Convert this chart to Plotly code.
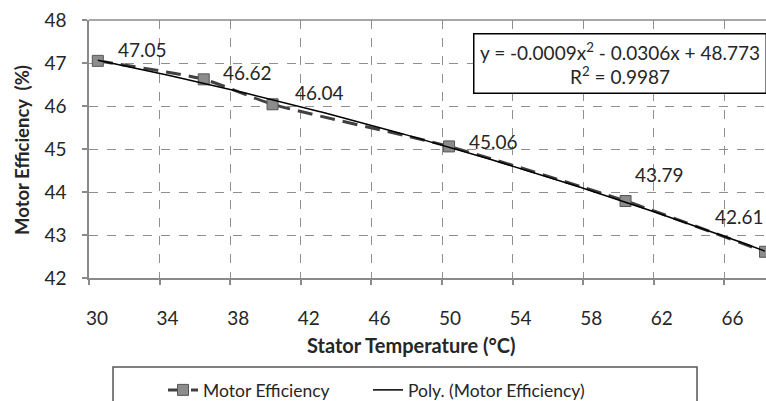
import numpy as np
import plotly.graph_objects as go

# ---- data ----
stator_temp = [30.5, 36.5, 40.4, 50.4, 60.4, 68.3]
motor_eff = [47.05, 46.62, 46.04, 45.06, 43.79, 42.61]
data_labels = ["47.05", "46.62", "46.04", "45.06", "43.79", "42.61"]
x_ticks = [30, 34, 38, 42, 46, 50, 54, 58, 62, 66]
y_ticks = [42, 43, 44, 45, 46, 47, 48]
equation_text = "y = -0.0009x<sup>2</sup> - 0.0306x + 48.773<br>R<sup>2</sup> = 0.9987"

# label offsets in pixels (dx, dy up)
label_offsets = [(18, 11), (17, 7), (20, 12), (18, 5), (7, 27), (-52, 35)]

W, H = 766, 401
ML, MR, MT, MB = 89, 0, 20, 123
PW, PH = W - ML - MR, H - MT - MB
PX_PER_UNIT = 17.65
x_range = [30, 30 + PW / PX_PER_UNIT]

FONT = "Lato, Carlito, Calibri, sans-serif"
TXT = "#262626"

def px_to_paper_x(px):
    return (px - ML) / PW

def px_to_paper_y(py):
    return (H - MB - py) / PH

# polynomial trendline (order 2) fitted to the series
coef = np.polyfit(stator_temp, motor_eff, 2)
x_fit = np.linspace(min(stator_temp), max(stator_temp), 200)
y_fit = np.polyval(coef, x_fit)

fig = go.Figure()
fig.add_trace(go.Scatter(
    x=stator_temp, y=motor_eff, mode="lines+markers", name="Motor Efficiency",
    line=dict(color="#404040", width=3, dash="15px,8px", shape="spline", smoothing=0.6),
    marker=dict(symbol="square", size=11, color="#8c8c8c", line=dict(color="#555555", width=1)),
    legend="legend",
))
fig.add_trace(go.Scatter(
    x=x_fit, y=y_fit, mode="lines", name="Poly. (Motor Efficiency)",
    line=dict(color="#000000", width=1.5),
    legend="legend2",
))

annotations = []
for xv, yv, lab, (dx, dy) in zip(stator_temp, motor_eff, data_labels, label_offsets):
    annotations.append(dict(
        x=xv, y=yv, xref="x", yref="y", text=lab, showarrow=False,
        xanchor="left", yanchor="middle", xshift=dx, yshift=dy,
        font=dict(family=FONT, size=19, color=TXT),
    ))

# equation box
annotations.append(dict(
    x=px_to_paper_x(473), y=px_to_paper_y(33), xref="paper", yref="paper",
    xanchor="left", yanchor="top", text=equation_text, showarrow=False,
    align="center", bordercolor="#000000", borderwidth=1.5, borderpad=3,
    bgcolor="#ffffff", width=285, height=52,
    font=dict(family=FONT, size=19, color=TXT),
))

# axis titles
annotations.append(dict(
    x=px_to_paper_x(411), y=px_to_paper_y(345), xref="paper", yref="paper",
    text="<b>Stator Temperature (°C)</b>", showarrow=False,
    xanchor="center", yanchor="middle",
    font=dict(family=FONT, size=20, color=TXT),
))
annotations.append(dict(
    x=px_to_paper_x(22), y=px_to_paper_y(150), xref="paper", yref="paper",
    text="<b>Motor Efficiency  (%)</b>", showarrow=False, textangle=-90,
    xanchor="center", yanchor="middle",
    font=dict(family=FONT, size=18.5, color=TXT),
))

shapes = [
    # top border line at 48
    dict(type="line", xref="paper", yref="paper", x0=0, x1=1, y0=1, y1=1,
         line=dict(color="#8a8a8a", width=1.5)),
    # legend frame
    dict(type="rect", xref="paper", yref="paper",
         x0=px_to_paper_x(113), x1=px_to_paper_x(697),
         y0=px_to_paper_y(367), y1=px_to_paper_y(430),
         line=dict(color="#555555", width=1.5), fillcolor="rgba(0,0,0,0)"),
]

axis_common = dict(
    showline=True, linecolor="#8a8a8a", linewidth=1.5,
    ticks="outside", ticklen=5, tickcolor="#8a8a8a", tickwidth=1.5,
    showgrid=True, gridcolor="#8f8f8f", gridwidth=1, griddash="dash",
    zeroline=False, tickfont=dict(family=FONT, size=19, color=TXT),
)

legend_common = dict(
    orientation="h", xref="container", yref="container",
    y=1 - 372 / H, xanchor="left", yanchor="top",
    font=dict(family=FONT, size=17.5, color=TXT),
    bgcolor="rgba(0,0,0,0)", borderwidth=0,
)

fig.update_layout(
    width=W, height=H, autosize=False,
    margin=dict(l=ML, r=MR, t=MT, b=MB, pad=0),
    paper_bgcolor="#ffffff", plot_bgcolor="#ffffff",
    font=dict(family=FONT, color=TXT),
    xaxis=dict(range=x_range, tickvals=x_ticks, ticklabelstandoff=17,
               ticklabelshift=8, **axis_common),
    yaxis=dict(range=[42, 48], tickvals=y_ticks, ticklabelstandoff=12, **axis_common),
    showlegend=True,
    legend=dict(x=163 / W, **legend_common),
    legend2=dict(x=368 / W, **legend_common),
    annotations=annotations, shapes=shapes,
)

fig.write_html("out.html", config={"displayModeBar": False},
               post_script="document.body.style.margin='0';document.body.style.overflow='hidden';")
